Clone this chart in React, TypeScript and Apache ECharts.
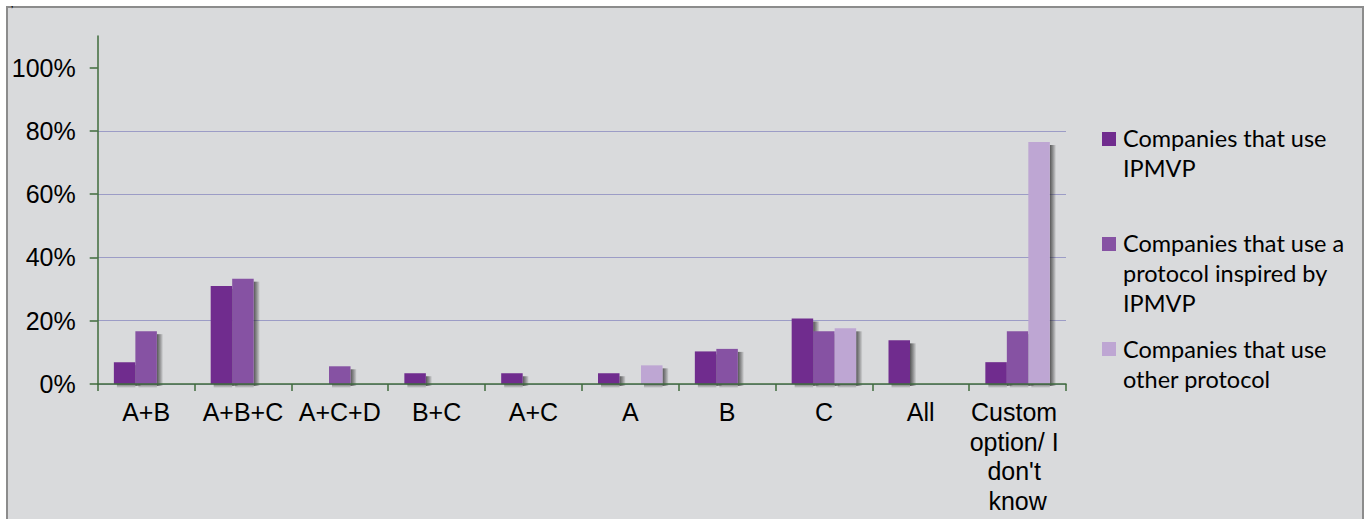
import React, { useEffect, useRef } from "react";
import * as echarts from "echarts";

const categories = ["A+B", "A+B+C", "A+C+D", "B+C", "A+C", "A", "B", "C", "All", "Custom option/ I don't know"];
const seriesNames = [
  "Companies that use IPMVP",
  "Companies that use a protocol inspired by IPMVP",
  "Companies that use other protocol",
];
const legendLines = [
  "Companies that use\nIPMVP",
  "Companies that use a\nprotocol inspired by\nIPMVP",
  "Companies that use\nother protocol",
];
const ipmvp = [6.9, 31.0, 0, 3.4, 3.4, 3.4, 10.3, 20.7, 13.8, 6.9];
const inspired = [16.7, 33.3, 5.6, 0, 0, 0, 11.1, 16.7, 0, 16.7];
const other = [0, 0, 0, 0, 0, 5.9, 0, 17.6, 0, 76.5];
const yTicks = [0, 20, 40, 60, 80, 100];
const colors = ["#702c8e", "#8652a3", "#bea6d3"];

const BAR_W = 21.5;

export default function App() {
  const ref = useRef<HTMLDivElement>(null);
  useEffect(() => {
    const chart = echarts.init(ref.current!, null, { renderer: "svg" });
    const data = [ipmvp, inspired, other];
    const legendY = [123, 228, 334];
    const legendIconY = [132, 237, 342];
    const graphic: any[] = [
      {
        type: "rect",
        z: -10,
        shape: { x: 7, y: 7, width: 1356, height: 530 },
        style: { fill: "#d9dadc", stroke: "#8c8c8c", lineWidth: 2 },
      },
      {
        type: "text",
        x: 11,
        y: 0,
        style: { text: ",", font: "bold 8px 'Liberation Sans'", fill: "#000", verticalAlign: "top" },
      },
    ];
    legendLines.forEach((t, i) => {
      graphic.push({
        type: "rect",
        shape: { x: 1102, y: legendIconY[i], width: 14, height: 14 },
        style: { fill: colors[i] },
      });
      graphic.push({
        type: "text",
        x: 1123,
        y: legendY[i],
        style: {
          text: t,
          font: "23.5px Lato",
          lineHeight: 30,
          fill: "#000",
          verticalAlign: "top",
        },
      });
    });

    const shadowSeries = data.map((d, i) => ({
      type: "custom",
      name: "shadow" + i,
      z: 1,
      silent: true,
      data: d.map((v, k) => [k, v]),
      renderItem: (params: any, api: any) => {
        const v = api.value(1);
        if (!v) return null;
        const top = api.coord([api.value(0), v]);
        const base = api.coord([api.value(0), 0]);
        const x0 = top[0] - 1.5 * BAR_W + i * BAR_W;
        const right = x0 + BAR_W;
        const grad = new echarts.graphic.LinearGradient(0, 0, 1, 0, [
          { offset: 0, color: "rgba(30,30,30,0.7)" },
          { offset: 0.5, color: "rgba(30,30,30,0.4)" },
          { offset: 1, color: "rgba(30,30,30,0.05)" },
        ]);
        const gradB = new echarts.graphic.LinearGradient(0, 0, 0, 1, [
          { offset: 0, color: "rgba(30,30,30,0.55)" },
          { offset: 1, color: "rgba(30,30,30,0.0)" },
        ]);
        return {
          type: "group",
          children: [
            {
              type: "rect",
              shape: { x: right, y: top[1] + 3, width: 6, height: base[1] - top[1] - 1 },
              style: { fill: grad },
            },
            {
              type: "rect",
              shape: { x: x0 + 3, y: base[1], width: BAR_W - 3, height: 4 },
              style: { fill: gradB },
            },
          ],
        };
      },
    }));

    chart.setOption({
      animation: false,
      backgroundColor: "#ffffff",
      graphic,
      grid: { left: 97.7, right: 303, top: 36, bottom: 135, containLabel: false },
      xAxis: {
        type: "category",
        data: categories,
        axisLine: { lineStyle: { color: "#3f6b3c", width: 1.5 } },
        axisTick: { show: true, length: 7, lineStyle: { color: "#3f6b3c", width: 1.5 } },
        axisLabel: {
          color: "#000",
          fontFamily: "Liberation Sans",
          fontSize: 25,
          lineHeight: 29.7,
          margin: 13,
          interval: 0,
          width: 96,
          overflow: "break",
        },
        z: 3,
      },
      yAxis: {
        type: "value",
        min: 0,
        max: 110,
        interval: 20,
        axisLine: { show: true, lineStyle: { color: "#3f6b3c", width: 1.5 } },
        axisTick: { show: true, length: 8, customValues: yTicks, lineStyle: { color: "#3f6b3c", width: 1.5 } },
        axisLabel: {
          customValues: yTicks,
          formatter: (v: number) => v + "%",
          color: "#000",
          fontFamily: "Liberation Sans",
          fontSize: 25,
          margin: 22,
        },
        splitLine: { show: true, showMaxLine: false, lineStyle: { color: "#9c9cc6", width: 1.2 } },
      },
      series: [
        ...shadowSeries,
        ...data.map((d, i) => ({
          type: "bar",
          name: seriesNames[i],
          data: d,
          z: 2,
          barWidth: BAR_W,
          barGap: "0%",
          barCategoryGap: "33%",
          itemStyle: { color: colors[i] },
        })),
      ],
    });
    return () => chart.dispose();
  }, []);
  return (
    <div
      ref={ref}
      style={{ position: "absolute", left: 0, top: 0, width: 1369, height: 519 }}
    />
  );
}
